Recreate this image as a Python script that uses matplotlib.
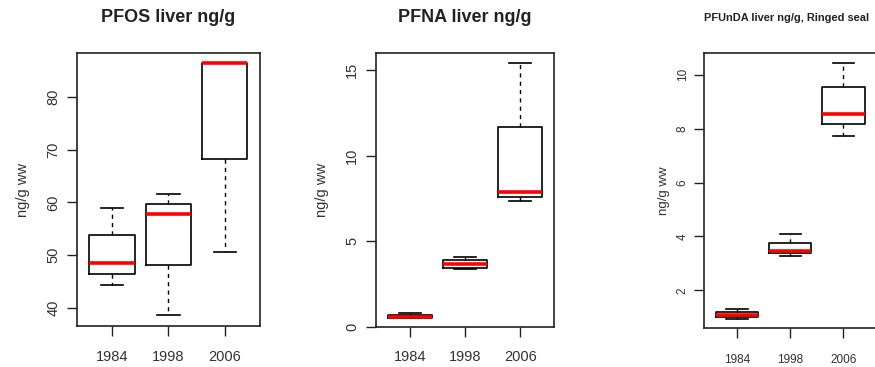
import matplotlib
matplotlib.use('Agg')
import matplotlib.pyplot as plt

plt.rcParams['font.family'] = ['Liberation Sans', 'DejaVu Sans']

years = ['1984', '1998', '2006']

# five-number summaries: whisker low, Q1, median, Q3, whisker high
pfos_low = [44.2, 38.6, 50.5]
pfos_q1 = [46.4, 48.05, 68.3]
pfos_med = [48.4, 57.75, 86.5]
pfos_q3 = [53.8, 59.6, 86.5]
pfos_high = [59.0, 61.6, 86.5]

pfna_low = [0.48, 3.35, 7.37]
pfna_q1 = [0.53, 3.45, 7.6]
pfna_med = [0.58, 3.65, 7.9]
pfna_q3 = [0.70, 3.88, 11.65]
pfna_high = [0.82, 4.06, 15.4]

pfunda_low = [0.95, 3.28, 7.73]
pfunda_q1 = [1.0, 3.38, 8.16]
pfunda_med = [1.07, 3.46, 8.55]
pfunda_q3 = [1.2, 3.77, 9.53]
pfunda_high = [1.30, 4.10, 10.42]

titles = ['PFOS liver ng/g', 'PFNA liver ng/g', 'PFUnDA liver ng/g, Ringed seal']
ylabels = ['ng/g ww', 'ng/g ww', 'ng/g ww']
yticks = [[40, 50, 60, 70, 80], [0, 5, 10, 15], [2, 4, 6, 8, 10]]
ylims = [(36.5, 88.4), (0, 16.0), (0.61, 10.82)]


def make_stats(low, q1, med, q3, high):
    return [dict(whislo=a, q1=b, med=c, q3=d, whishi=e, fliers=[])
            for a, b, c, d, e in zip(low, q1, med, q3, high)]


series = [
    make_stats(pfos_low, pfos_q1, pfos_med, pfos_q3, pfos_high),
    make_stats(pfna_low, pfna_q1, pfna_med, pfna_q3, pfna_high),
    make_stats(pfunda_low, pfunda_q1, pfunda_med, pfunda_q3, pfunda_high),
]

fig = plt.figure(figsize=(8.75, 3.67), dpi=100)
positions = [
    [0.088, 0.1117, 0.209, 0.744],
    [0.4297, 0.1098, 0.2038, 0.7458],
    [0.8046, 0.107, 0.197, 0.7494],
]

for i, (stats, pos) in enumerate(zip(series, positions)):
    ax = fig.add_axes(pos)
    small = (i == 2)
    ax.bxp(stats, positions=[1, 2, 3], widths=0.8, showfliers=False,
           boxprops=dict(color='black', linewidth=1.2),
           whiskerprops=dict(color='black', linewidth=1.0, linestyle=(0, (3, 3))),
           capprops=dict(color='black', linewidth=1.2),
           medianprops=dict(color='red', linewidth=2.6),
           capwidths=0.4)
    ax.set_xlim(0.38, 3.62)
    ax.set_ylim(*ylims[i])
    ax.set_xticks([1, 2, 3])
    ax.set_xticklabels(years)
    ax.set_yticks(yticks[i])
    ax.set_yticklabels([str(t) for t in yticks[i]], rotation=90, va='center')
    for s in ax.spines.values():
        s.set_linewidth(1.2)
        s.set_color('#222222')
    fs = 8.5 if small else 10.5
    ax.tick_params(axis='both', direction='out', length=7, width=1.0,
                   labelsize=fs, colors='#222222', labelcolor='#333333')
    ax.tick_params(axis='x', pad=10 if not small else 12)
    ax.tick_params(axis='y', pad=5 if not small else 4)
    ax.set_ylabel(ylabels[i], fontsize=9.5 if small else fs, color='#333333',
                  labelpad=12 if not small else 5)
    if small:
        ax.set_title(titles[i], fontsize=7.9, fontweight='bold', pad=23,
                     loc='left', color='#222222')
    else:
        ax.set_title(titles[i], fontsize=13, fontweight='bold', pad=22,
                     color='#222222')

fig.savefig('out.png', dpi=100)
